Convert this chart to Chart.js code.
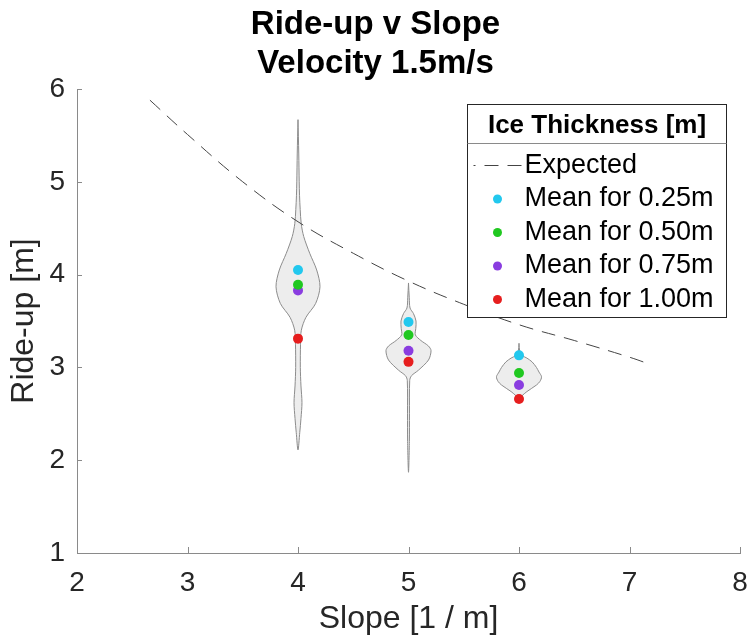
<!DOCTYPE html>
<html>
<head>
<meta charset="utf-8">
<script src="https://cdn.jsdelivr.net/npm/chart.js@4/dist/chart.umd.min.js"></script>
<style>
  html, body { margin: 0; padding: 0; background: #fff; }
</style>
</head>
<body>
<canvas id="chart" width="751" height="644"></canvas>
<script>
// slopes where the runs were done
const slopes = [4, 5, 6];

// mean ride-up per ice thickness, one value per slope
const thicknessLabels = ['Mean for 0.25m', 'Mean for 0.50m', 'Mean for 0.75m', 'Mean for 1.00m'];
const mean025 = [4.05, 3.49, 3.13];
const mean050 = [3.89, 3.35, 2.94];
const mean075 = [3.83, 3.18, 2.81];
const mean100 = [3.31, 3.06, 2.66];

// expected ride-up curve
const expectedSlope  = [2.66, 3.0, 3.5, 4.0, 4.5, 5.0, 5.5, 6.0, 6.5, 7.0, 7.17];
const expectedRideUp = [5.88, 5.51, 5.00, 4.57, 4.23, 3.93, 3.68, 3.46, 3.29, 3.11, 3.04];

// violin outlines: ride-up levels (top to bottom) and half width in slope units
const violin4Levels = [5.67, 5.3, 5.0, 4.85, 4.7, 4.55, 4.41, 4.23, 4.05, 3.87, 3.69, 3.54, 3.40, 3.25, 3.0, 2.8, 2.62, 2.45, 2.3, 2.11];
const violin4Half   = [0, 0.007, 0.011, 0.014, 0.020, 0.029, 0.052, 0.106, 0.169, 0.199, 0.160, 0.072, 0.030, 0.023, 0.021, 0.027, 0.036, 0.027, 0.016, 0];
const violin5Levels = [3.91, 3.75, 3.64, 3.58, 3.50, 3.42, 3.35, 3.29, 3.23, 3.18, 3.08, 2.97, 2.91, 2.86, 2.5, 2.2, 1.87];
const violin5Half   = [0, 0.007, 0.014, 0.045, 0.068, 0.066, 0.062, 0.112, 0.181, 0.204, 0.181, 0.090, 0.027, 0.011, 0.009, 0.008, 0];
const violin6Levels = [3.26, 3.17, 3.13, 3.10, 3.06, 3.00, 2.95, 2.90, 2.85, 2.81, 2.74, 2.69, 2.66];
const violin6Half   = [0, 0.007, 0.027, 0.072, 0.118, 0.158, 0.181, 0.204, 0.190, 0.158, 0.072, 0.023, 0];

const xTicks = [2, 3, 4, 5, 6, 7, 8];
const yTicks = [1, 2, 3, 4, 5, 6];

const FONT = "'Liberation Sans', Arial, Helvetica, sans-serif";
const TEXT = '#262626';

function violinOutline(pos, levels, half) {
  const pts = levels.map((y, i) => ({ x: pos + half[i], y }));
  for (let i = levels.length - 2; i >= 0; i--) {
    pts.push({ x: pos - half[i], y: levels[i] });
  }
  return pts;
}

function meanSet(label, values, color) {
  return {
    label,
    data: slopes.map((s, i) => ({ x: s, y: values[i] })),
    showLine: false,
    pointRadius: 5,
    pointBackgroundColor: color,
    pointBorderColor: color,
    pointBorderWidth: 0,
    backgroundColor: color,
    borderColor: color
  };
}

function violinSet(pos, levels, half) {
  return {
    data: violinOutline(pos, levels, half),
    borderColor: '#8c8c8c',
    borderWidth: 1,
    backgroundColor: '#ededed',
    fill: 'shape',
    tension: 0.3,
    pointRadius: 0
  };
}

const datasets = [
  meanSet(thicknessLabels[0], mean025, '#22c8ee'),
  meanSet(thicknessLabels[1], mean050, '#20c820'),
  meanSet(thicknessLabels[2], mean075, '#8a3de0'),
  meanSet(thicknessLabels[3], mean100, '#e61e1e'),
  {
    label: 'Expected',
    data: expectedSlope.map((s, i) => ({ x: s, y: expectedRideUp[i] })),
    borderColor: '#444',
    borderWidth: 1,
    borderDash: [14, 9],
    pointRadius: 0,
    tension: 0.4,
    fill: false
  },
  violinSet(4, violin4Levels, violin4Half),
  violinSet(5, violin5Levels, violin5Half),
  violinSet(6, violin6Levels, violin6Half)
];

// small inward tick marks on both axes
const innerTicks = {
  id: 'innerTicks',
  afterDatasetsDraw(chart) {
    const { ctx, chartArea, scales: { x, y } } = chart;
    ctx.save();
    ctx.strokeStyle = '#8a8a8a';
    ctx.lineWidth = 1;
    xTicks.forEach(v => {
      const px = Math.round(x.getPixelForValue(v)) + 0.5;
      ctx.beginPath();
      ctx.moveTo(px, chartArea.bottom);
      ctx.lineTo(px, chartArea.bottom - 6);
      ctx.stroke();
    });
    yTicks.forEach(v => {
      const py = Math.round(y.getPixelForValue(v)) + 0.5;
      ctx.beginPath();
      ctx.moveTo(chartArea.left, py);
      ctx.lineTo(chartArea.left + 5, py);
      ctx.stroke();
    });
    ctx.restore();
  }
};

// boxed legend with a title row, inside the plot
const legendBox = {
  id: 'legendBox',
  afterDraw(chart) {
    const ctx = chart.ctx;
    const x0 = 467.5, y0 = 104.5, w = 259, h = 213;
    const items = chart.data.datasets.filter(d => d.label);
    const order = ['Expected'].concat(thicknessLabels);
    ctx.save();
    ctx.fillStyle = '#fff';
    ctx.fillRect(x0, y0, w, h);
    ctx.strokeStyle = '#262626';
    ctx.lineWidth = 1;
    ctx.strokeRect(x0, y0, w, h);
    ctx.strokeStyle = '#8a8a8a';
    ctx.beginPath();
    ctx.moveTo(x0, y0 + 39);
    ctx.lineTo(x0 + w, y0 + 39);
    ctx.stroke();

    ctx.fillStyle = '#000';
    ctx.font = 'bold 26px ' + FONT;
    ctx.textAlign = 'center';
    ctx.textBaseline = 'middle';
    ctx.fillText('Ice Thickness [m]', x0 + w / 2, y0 + 21);

    ctx.font = '27px ' + FONT;
    ctx.textAlign = 'left';
    order.forEach((name, i) => {
      const ds = items.find(d => d.label === name);
      const cy = y0 + 61 + i * 33.5;
      if (ds.borderDash) {
        ctx.save();
        ctx.strokeStyle = ds.borderColor;
        ctx.setLineDash(ds.borderDash);
        ctx.lineDashOffset = 12;
        ctx.beginPath();
        ctx.moveTo(x0 + 6, cy);
        ctx.lineTo(x0 + 54, cy);
        ctx.stroke();
        ctx.restore();
      } else {
        ctx.fillStyle = ds.pointBackgroundColor;
        ctx.beginPath();
        ctx.arc(x0 + 30, cy, 4.5, 0, Math.PI * 2);
        ctx.fill();
      }
      ctx.fillStyle = '#000';
      ctx.fillText(name, x0 + 57, cy);
    });
    ctx.restore();
  }
};

new Chart(document.getElementById('chart'), {
  type: 'line',
  data: { datasets },
  options: {
    responsive: false,
    animation: false,
    events: [],
    layout: { padding: { top: 0, right: 0, bottom: 0, left: 0 } },
    plugins: {
      legend: { display: false },
      tooltip: { enabled: false },
      title: {
        display: true,
        text: ['Ride-up v Slope', 'Velocity 1.5m/s'],
        color: '#000',
        font: { family: FONT, size: 33, weight: 'bold', lineHeight: 1.167 },
        padding: { top: 6, bottom: 6 }
      }
    },
    scales: {
      x: {
        type: 'linear',
        min: 2, max: 8,
        afterFit: s => { s.height = 91; s.paddingRight = 11; s.paddingLeft = 8; },
        afterBuildTicks: s => { s.ticks = xTicks.map(v => ({ value: v })); },
        grid: { display: false, drawTicks: false },
        border: { display: true, color: '#8a8a8a', width: 1 },
        ticks: { color: TEXT, font: { family: FONT, size: 28 }, padding: 13 },
        title: {
          display: true, text: 'Slope [1 / m]', color: TEXT,
          font: { family: FONT, size: 32 }, padding: { top: 0, bottom: 6 }
        }
      },
      y: {
        type: 'linear',
        min: 1, max: 6,
        afterFit: s => { s.width = 77; },
        afterBuildTicks: s => { s.ticks = yTicks.map(v => ({ value: v })); },
        grid: { display: false, drawTicks: false },
        border: { display: true, color: '#8a8a8a', width: 1 },
        ticks: { color: TEXT, font: { family: FONT, size: 28 }, padding: 12 },
        title: {
          display: true, text: 'Ride-up [m]', color: TEXT,
          font: { family: FONT, size: 32 }, padding: { top: 5, bottom: 0 }
        }
      }
    }
  },
  plugins: [innerTicks, legendBox]
});
</script>
</body>
</html>
